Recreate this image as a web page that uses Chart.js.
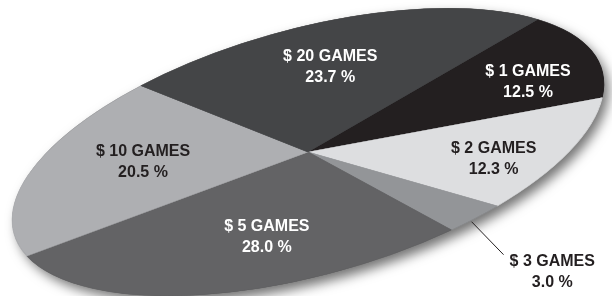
<!DOCTYPE html>
<html>
<head>
<meta charset="utf-8">
<script src="https://cdn.jsdelivr.net/npm/chart.js@4.4.1/dist/chart.umd.min.js"></script>
<style>
  html, body { margin: 0; padding: 0; background: #fff; }
  #wrap { position: relative; width: 612px; height: 296px; }
</style>
</head>
<body>
<div id="wrap"><canvas id="gamesChart"></canvas></div>
<script>
// ── Data ──
const categories = ['$ 1 GAMES', '$ 2 GAMES', '$ 3 GAMES', '$ 5 GAMES', '$ 10 GAMES', '$ 20 GAMES'];
const shares = [12.5, 12.3, 3.0, 28.0, 20.5, 23.7];

// ── Look ──
const sliceColors = ['#231f20', '#dddee0', '#939598', '#636365', '#aeafb2', '#444547'];
const labelColors = ['#ffffff', '#231f20', '#231f20', '#ffffff', '#231f20', '#ffffff'];
// label spot in each slice: fraction of radius + angle nudge (deg); null = outside with leader
const labelRadius = [0.76, 0.74, null, 0.61, 0.60, 0.63];
const labelNudge  = [4.8, 3.9, 1.2, -8.2, 2.9, -1.4];
const LABEL_FONT = 'bold 16px "Liberation Sans", Arial, sans-serif';

// the pie is squashed into a tilted ellipse
const TILT = 15.5 * Math.PI / 180;
const OVAL = { cx: 308, cy: 152, a: 305, b: 123 };

function toScreen(arc, px, py) {
    const ux = (px - arc.x) * OVAL.a / arc.outerRadius;
    const uy = (py - arc.y) * OVAL.b / arc.outerRadius;
    const c = Math.cos(TILT), s = Math.sin(TILT);
    return { x: OVAL.cx + ux * c + uy * s, y: OVAL.cy - ux * s + uy * c };
}

const ovalPlugin = {
    id: 'oval',
    beforeDatasetsDraw(chart) {
        const ctx = chart.ctx;
        const arc = chart.getDatasetMeta(0).data[0];
        // drop shadow
        ctx.save();
        ctx.shadowColor = 'rgba(0,0,0,0.55)';
        ctx.shadowBlur = 12;
        ctx.shadowOffsetX = 5;
        ctx.shadowOffsetY = 6;
        ctx.fillStyle = '#555';
        ctx.beginPath();
        ctx.ellipse(OVAL.cx, OVAL.cy, OVAL.a, OVAL.b, -TILT, 0, Math.PI * 2);
        ctx.fill();
        ctx.restore();
        // squash transform for the slices
        ctx.save();
        ctx.translate(OVAL.cx, OVAL.cy);
        ctx.rotate(-TILT);
        ctx.scale(OVAL.a / arc.outerRadius, OVAL.b / arc.outerRadius);
        ctx.translate(-arc.x, -arc.y);
    },
    afterDatasetsDraw(chart) {
        const ctx = chart.ctx;
        ctx.restore();
        const arcs = chart.getDatasetMeta(0).data;
        ctx.save();
        ctx.font = LABEL_FONT;
        ctx.textBaseline = 'middle';
        ctx.textAlign = 'center';
        arcs.forEach((arc, i) => {
            const mid = (arc.startAngle + arc.endAngle) / 2 + labelNudge[i] * Math.PI / 180;
            const pct = shares[i].toFixed(1) + ' %';
            ctx.fillStyle = labelColors[i];
            if (labelRadius[i] !== null) {
                const f = labelRadius[i] * arc.outerRadius;
                const p = toScreen(arc, arc.x + f * Math.cos(mid), arc.y + f * Math.sin(mid));
                ctx.fillText(categories[i], p.x, p.y - 10.5);
                ctx.fillText(pct, p.x, p.y + 10.5);
            } else {
                const f = 1.01 * arc.outerRadius;
                const p0 = toScreen(arc, arc.x + f * Math.cos(mid), arc.y + f * Math.sin(mid));
                const p1 = { x: p0.x + 32, y: p0.y + 33 };
                ctx.strokeStyle = '#231f20';
                ctx.lineWidth = 1;
                ctx.beginPath();
                ctx.moveTo(p0.x, p0.y);
                ctx.lineTo(p1.x, p1.y);
                ctx.stroke();
                const w = ctx.measureText(categories[i]).width;
                const tx = p1.x + 6 + w / 2;
                ctx.fillText(categories[i], tx, p1.y + 7);
                ctx.fillText(pct, tx, p1.y + 28);
            }
        });
        ctx.restore();
    }
};

// ── Build Chart ──
const ctx = document.getElementById('gamesChart').getContext('2d');
const gamesChart = new Chart(ctx, {
    type: 'pie',
    data: {
        labels: categories,
        datasets: [{
            data: shares,
            backgroundColor: sliceColors,
            borderColor: sliceColors,
            borderWidth: 0.5,
            clip: false
        }]
    },
    options: {
        responsive: true,
        maintainAspectRatio: false,
        animation: false,
        rotation: 57.3,
        plugins: {
            legend: { display: false },
            tooltip: { enabled: false }
        },
        layout: { padding: 0 }
    },
    plugins: [ovalPlugin]
});
</script>
</body>
</html>
